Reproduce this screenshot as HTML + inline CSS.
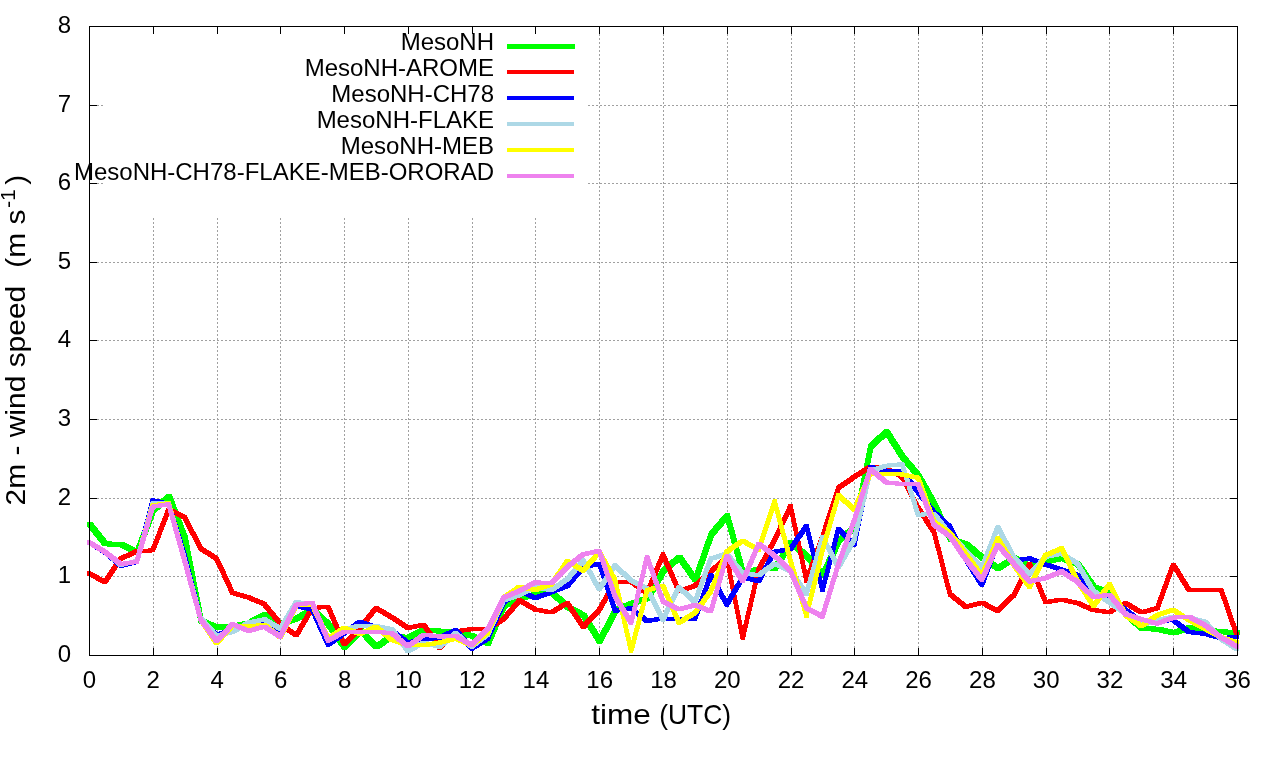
<!DOCTYPE html>
<html><head><meta charset="utf-8"><style>html,body{margin:0;padding:0;background:#fff;}svg{display:block;will-change:transform;}text{white-space:pre;}</style></head>
<body><svg width="1280" height="760" viewBox="0 0 1280 760" font-family='"Liberation Sans", sans-serif'><path d="M153.5 656V26M217.5 656V26M280.5 656V26M344.5 656V26M408.5 656V26M472.5 656V26M535.5 656V26M599.5 656V26M663.5 656V26M727.5 656V26M791.5 656V26M854.5 656V26M918.5 656V26M982.5 656V26M1046.5 656V26M1109.5 656V26M1173.5 656V26M89 576.5H1238M89 498.5H1238M89 419.5H1238M89 340.5H1238M89 262.5H1238M89 183.5H104M588 183.5H1238M89 105.5H104M588 105.5H1238" stroke="#a0a0a0" stroke-width="1" stroke-dasharray="2 2" fill="none" shape-rendering="crispEdges"/><rect x="103" y="27" width="485" height="191" fill="#fff"/><path d="M89.5 655V648M89.5 26V34M153.5 655V648M153.5 26V34M217.5 655V648M217.5 26V34M280.5 655V648M280.5 26V34M344.5 655V648M344.5 26V34M408.5 655V648M408.5 26V34M472.5 655V648M472.5 26V34M535.5 655V648M535.5 26V34M599.5 655V648M599.5 26V34M663.5 655V648M663.5 26V34M727.5 655V648M727.5 26V34M791.5 655V648M791.5 26V34M854.5 655V648M854.5 26V34M918.5 655V648M918.5 26V34M982.5 655V648M982.5 26V34M1046.5 655V648M1046.5 26V34M1109.5 655V648M1109.5 26V34M1173.5 655V648M1173.5 26V34M1237.5 655V648M1237.5 26V34M89 655.5H97M1237 655.5H1230M89 576.5H97M1237 576.5H1230M89 498.5H97M1237 498.5H1230M89 419.5H97M1237 419.5H1230M89 340.5H97M1237 340.5H1230M89 262.5H97M1237 262.5H1230M89 183.5H97M1237 183.5H1230M89 105.5H97M1237 105.5H1230M89 26.5H97M1237 26.5H1230" stroke="#000" stroke-width="1" fill="none" shape-rendering="crispEdges"/><path d="M87 521.52L92 521.52L107.94 541.41L107.94 546.41L102.94 546.41L87 526.52ZM102.94 541.41L107.94 541.41L123.89 541.78L123.89 546.78L118.89 546.78L102.94 546.41ZM118.89 541.78L123.89 541.78L139.83 549.86L139.83 554.86L134.83 554.86L118.89 546.78ZM134.83 549.86L150.78 507.77L155.78 507.77L155.78 512.77L139.83 554.86L134.83 554.86ZM150.78 507.77L166.72 493.99L171.72 493.99L171.72 498.99L155.78 512.77L150.78 512.77ZM166.72 493.99L171.72 493.99L187.67 535.86L187.67 540.86L182.67 540.86L166.72 498.99ZM182.67 535.86L187.67 535.86L203.61 618.26L203.61 623.26L198.61 623.26L182.67 540.86ZM198.61 618.26L203.61 618.26L219.56 624.86L219.56 629.86L214.56 629.86L198.61 623.26ZM214.56 624.86L230.5 623.7L235.5 623.7L235.5 628.7L219.56 629.86L214.56 629.86ZM230.5 623.7L246.44 620.7L251.44 620.7L251.44 625.7L235.5 628.7L230.5 628.7ZM246.44 620.7L262.39 612.07L267.39 612.07L267.39 617.07L251.44 625.7L246.44 625.7ZM262.39 612.07L267.39 612.07L283.33 621.36L283.33 626.36L278.33 626.36L262.39 617.07ZM278.33 621.36L294.28 616.05L299.28 616.05L299.28 621.05L283.33 626.36L278.33 626.36ZM294.28 616.05L310.22 606.75L315.22 606.75L315.22 611.75L299.28 621.05L294.28 621.05ZM310.22 606.75L315.22 606.75L331.17 622.02L331.17 627.02L326.17 627.02L310.22 611.75ZM326.17 622.02L331.17 622.02L347.11 644.6L347.11 649.6L342.11 649.6L326.17 627.02ZM342.11 644.6L358.06 627.82L363.06 627.82L363.06 632.82L347.11 649.6L342.11 649.6ZM358.06 627.82L363.06 627.82L379 644.35L379 649.35L374 649.35L358.06 632.82ZM374 644.35L389.94 633.32L394.94 633.32L394.94 638.32L379 649.35L374 649.35ZM389.94 633.32L394.94 633.32L410.89 635.18L410.89 640.18L405.89 640.18L389.94 638.32ZM405.89 635.18L421.83 627.34L426.83 627.34L426.83 632.34L410.89 640.18L405.89 640.18ZM421.83 627.34L426.83 627.34L442.78 628.67L442.78 633.67L437.78 633.67L421.83 632.34ZM437.78 628.67L442.78 628.67L458.72 629.33L458.72 634.33L453.72 634.33L437.78 633.67ZM453.72 629.33L458.72 629.33L474.67 633.32L474.67 638.32L469.67 638.32L453.72 634.33ZM469.67 633.32L474.67 633.32L490.61 640.62L490.61 645.62L485.61 645.62L469.67 638.32ZM485.61 640.62L501.56 603.4L506.56 603.4L506.56 608.4L490.61 645.62L485.61 645.62ZM501.56 603.4L517.5 595.85L522.5 595.85L522.5 600.85L506.56 608.4L501.56 608.4ZM517.5 595.85L533.44 591.79L538.44 591.79L538.44 596.79L522.5 600.85L517.5 600.85ZM533.44 591.79L549.39 589.93L554.39 589.93L554.39 594.93L538.44 596.79L533.44 596.79ZM549.39 589.93L554.39 589.93L570.33 604.47L570.33 609.47L565.33 609.47L549.39 594.93ZM565.33 604.47L570.33 604.47L586.28 613.03L586.28 618.03L581.28 618.03L565.33 609.47ZM581.28 613.03L586.28 613.03L602.22 638.69L602.22 643.69L597.22 643.69L581.28 618.03ZM597.22 638.69L613.17 607.9L618.17 607.9L618.17 612.9L602.22 643.69L597.22 643.69ZM613.17 607.9L629.11 601.05L634.11 601.05L634.11 606.05L618.17 612.9L613.17 612.9ZM629.11 601.05L645.06 595.93L650.06 595.93L650.06 600.93L634.11 606.05L629.11 606.05ZM645.06 595.93L661 568.56L666 568.56L666 573.56L650.06 600.93L645.06 600.93ZM661 568.56L676.94 554.66L681.94 554.66L681.94 559.66L666 573.56L661 573.56ZM676.94 554.66L681.94 554.66L697.89 577.36L697.89 582.36L692.89 582.36L676.94 559.66ZM692.89 577.36L708.83 531.97L713.83 531.97L713.83 536.97L697.89 582.36L692.89 582.36ZM708.83 531.97L724.78 513.24L729.78 513.24L729.78 518.24L713.83 536.97L708.83 536.97ZM724.78 513.24L729.78 513.24L745.72 571.08L745.72 576.08L740.72 576.08L724.78 518.24ZM740.72 571.08L756.67 566.5L761.67 566.5L761.67 571.5L745.72 576.08L740.72 576.08ZM756.67 566.5L772.61 565.55L777.61 565.55L777.61 570.55L761.67 571.5L756.67 571.5ZM772.61 565.55L788.56 540L793.56 540L793.56 545L777.61 570.55L772.61 570.55ZM788.56 540L793.56 540L809.5 553.69L809.5 558.69L804.5 558.69L788.56 545ZM804.5 553.69L809.5 553.69L825.44 572.5L825.44 577.5L820.44 577.5L804.5 558.69ZM820.44 572.5L836.39 538.29L841.39 538.29L841.39 543.29L825.44 577.5L820.44 577.5ZM836.39 538.29L852.33 524.53L857.33 524.53L857.33 529.53L841.39 543.29L836.39 543.29ZM852.33 524.53L868.28 444.08L873.28 444.08L873.28 449.08L857.33 529.53L852.33 529.53ZM868.28 444.08L884.22 429.29L889.22 429.29L889.22 434.29L873.28 449.08L868.28 449.08ZM884.22 429.29L889.22 429.29L905.17 454.35L905.17 459.35L900.17 459.35L884.22 434.29ZM900.17 454.35L905.17 454.35L921.11 473.29L921.11 478.29L916.11 478.29L900.17 459.35ZM916.11 473.29L921.11 473.29L937.06 501.73L937.06 506.73L932.06 506.73L916.11 478.29ZM932.06 501.73L937.06 501.73L953 536.45L953 541.45L948 541.45L932.06 506.73ZM948 536.45L953 536.45L968.94 541.71L968.94 546.71L963.94 546.71L948 541.45ZM963.94 541.71L968.94 541.71L984.89 555.39L984.89 560.39L979.89 560.39L963.94 546.71ZM979.89 555.39L984.89 555.39L1000.83 565.92L1000.83 570.92L995.83 570.92L979.89 560.39ZM995.83 565.92L1011.78 555.39L1016.78 555.39L1016.78 560.39L1000.83 570.92L995.83 570.92ZM1011.78 555.39L1016.78 555.39L1032.72 563.82L1032.72 568.82L1027.72 568.82L1011.78 560.39ZM1027.72 563.82L1043.67 559.15L1048.67 559.15L1048.67 564.15L1032.72 568.82L1027.72 568.82ZM1043.67 559.15L1059.61 555.73L1064.61 555.73L1064.61 560.73L1048.67 564.15L1043.67 564.15ZM1059.61 555.73L1064.61 555.73L1080.56 561.71L1080.56 566.71L1075.56 566.71L1059.61 560.73ZM1075.56 561.71L1080.56 561.71L1096.5 584.8L1096.5 589.8L1091.5 589.8L1075.56 566.71ZM1091.5 584.8L1096.5 584.8L1112.44 589.93L1112.44 594.93L1107.44 594.93L1091.5 589.8ZM1107.44 589.93L1112.44 589.93L1128.39 611.32L1128.39 616.32L1123.39 616.32L1107.44 594.93ZM1123.39 611.32L1128.39 611.32L1144.33 625.86L1144.33 630.86L1139.33 630.86L1123.39 616.32ZM1139.33 625.86L1144.33 625.86L1160.28 626.72L1160.28 631.72L1155.28 631.72L1139.33 630.86ZM1155.28 626.72L1160.28 626.72L1176.22 630.28L1176.22 635.28L1171.22 635.28L1155.28 631.72ZM1171.22 630.28L1187.17 625L1192.17 625L1192.17 630L1176.22 635.28L1171.22 635.28ZM1187.17 625L1192.17 625L1208.11 627.56L1208.11 632.56L1203.11 632.56L1187.17 630ZM1203.11 627.56L1208.11 627.56L1224.06 629.28L1224.06 634.28L1219.06 634.28L1203.11 632.56ZM1219.06 629.28L1224.06 629.28L1240 630.14L1240 635.14L1235 635.14L1219.06 634.28Z" fill="#00ff00" shape-rendering="crispEdges"/><path d="M87 571.47L91 571.47L106.94 580.01L106.94 584.01L102.94 584.01L87 575.47ZM102.94 580.01L118.89 556.55L122.89 556.55L122.89 560.55L106.94 584.01L102.94 584.01ZM118.89 556.55L134.83 549.31L138.83 549.31L138.83 553.31L122.89 560.55L118.89 560.55ZM134.83 549.31L150.78 548.31L154.78 548.31L154.78 552.31L138.83 553.31L134.83 553.31ZM150.78 548.31L166.72 507.32L170.72 507.32L170.72 511.32L154.78 552.31L150.78 552.31ZM166.72 507.32L170.72 507.32L186.67 515.12L186.67 519.12L182.67 519.12L166.72 511.32ZM182.67 515.12L186.67 515.12L202.61 546.43L202.61 550.43L198.61 550.43L182.67 519.12ZM198.61 546.43L202.61 546.43L218.56 556.56L218.56 560.56L214.56 560.56L198.61 550.43ZM214.56 556.56L218.56 556.56L234.5 590.82L234.5 594.82L230.5 594.82L214.56 560.56ZM230.5 590.82L234.5 590.82L250.44 595.47L250.44 599.47L246.44 599.47L230.5 594.82ZM246.44 595.47L250.44 595.47L266.39 602.11L266.39 606.11L262.39 606.11L246.44 599.47ZM262.39 602.11L266.39 602.11L282.33 622.03L282.33 626.03L278.33 626.03L262.39 606.11ZM278.33 622.03L282.33 622.03L298.28 633.33L298.28 637.33L294.28 637.33L278.33 626.03ZM294.28 633.33L310.22 606.09L314.22 606.09L314.22 610.09L298.28 637.33L294.28 637.33ZM310.22 606.09L326.17 604.76L330.17 604.76L330.17 608.76L314.22 610.09L310.22 610.09ZM326.17 604.76L330.17 604.76L346.11 642.32L346.11 646.32L342.11 646.32L326.17 608.76ZM342.11 642.32L358.06 626.02L362.06 626.02L362.06 630.02L346.11 646.32L342.11 646.32ZM358.06 626.02L374 606.09L378 606.09L378 610.09L362.06 630.02L358.06 630.02ZM374 606.09L378 606.09L393.94 615.39L393.94 619.39L389.94 619.39L374 610.09ZM389.94 615.39L393.94 615.39L409.89 625.88L409.89 629.88L405.89 629.88L389.94 619.39ZM405.89 625.88L421.83 622.69L425.83 622.69L425.83 626.69L409.89 629.88L405.89 629.88ZM421.83 622.69L425.83 622.69L441.78 645.93L441.78 649.93L437.78 649.93L421.83 626.69ZM437.78 645.93L453.72 629.33L457.72 629.33L457.72 633.33L441.78 649.93L437.78 649.93ZM453.72 629.33L469.67 627.21L473.67 627.21L473.67 631.21L457.72 633.33L453.72 633.33ZM469.67 627.21L489.61 627.21L489.61 631.21L469.67 631.21ZM485.61 627.21L501.56 617.08L505.56 617.08L505.56 621.08L489.61 631.21L485.61 631.21ZM501.56 617.08L517.5 598.27L521.5 598.27L521.5 602.27L505.56 621.08L501.56 621.08ZM517.5 598.27L521.5 598.27L537.44 607.59L537.44 611.59L533.44 611.59L517.5 602.27ZM533.44 607.59L537.44 607.59L553.39 610.46L553.39 614.46L549.39 614.46L533.44 611.59ZM549.39 610.46L565.33 601.05L569.33 601.05L569.33 605.05L553.39 614.46L549.39 614.46ZM565.33 601.05L569.33 601.05L585.28 624.94L585.28 628.94L581.28 628.94L565.33 605.05ZM581.28 624.94L597.22 607.9L601.22 607.9L601.22 611.9L585.28 628.94L581.28 628.94ZM597.22 607.9L613.17 579.67L617.17 579.67L617.17 583.67L601.22 611.9L597.22 611.9ZM613.17 579.67L633.11 579.67L633.11 583.67L613.17 583.67ZM629.11 579.67L633.11 579.67L649.06 591.37L649.06 595.37L645.06 595.37L629.11 583.67ZM645.06 591.37L661 552.45L665 552.45L665 556.45L649.06 595.37L645.06 595.37ZM661 552.45L665 552.45L680.94 589.18L680.94 593.18L676.94 593.18L661 556.45ZM676.94 589.18L692.89 583.92L696.89 583.92L696.89 587.92L680.94 593.18L676.94 593.18ZM692.89 583.92L708.83 569.47L712.83 569.47L712.83 573.47L696.89 587.92L692.89 587.92ZM708.83 569.47L724.78 555.65L728.78 555.65L728.78 559.65L712.83 573.47L708.83 573.47ZM724.78 555.65L728.78 555.65L744.72 635.98L744.72 639.98L740.72 639.98L724.78 559.65ZM740.72 635.98L756.67 567.5L760.67 567.5L760.67 571.5L744.72 639.98L740.72 639.98ZM756.67 567.5L772.61 537.89L776.61 537.89L776.61 541.89L760.67 571.5L756.67 571.5ZM772.61 537.89L788.56 504.21L792.56 504.21L792.56 508.21L776.61 541.89L772.61 541.89ZM788.56 504.21L792.56 504.21L808.5 578.64L808.5 582.64L804.5 582.64L788.56 508.21ZM804.5 578.64L820.44 534.87L824.44 534.87L824.44 538.87L808.5 582.64L804.5 582.64ZM820.44 534.87L836.39 485.92L840.39 485.92L840.39 489.92L824.44 538.87L820.44 538.87ZM836.39 485.92L852.33 474.88L856.33 474.88L856.33 478.88L840.39 489.92L836.39 489.92ZM852.33 474.88L868.28 464.61L872.28 464.61L872.28 468.61L856.33 478.88L852.33 478.88ZM868.28 464.61L872.28 464.61L888.22 466.19L888.22 470.19L884.22 470.19L868.28 468.61ZM884.22 466.19L888.22 466.19L904.17 474.88L904.17 478.88L900.17 478.88L884.22 470.19ZM900.17 474.88L904.17 474.88L920.11 505.66L920.11 509.66L916.11 509.66L900.17 478.88ZM916.11 505.66L920.11 505.66L936.06 530.13L936.06 534.13L932.06 534.13L916.11 509.66ZM932.06 530.13L936.06 530.13L952 592.24L952 596.24L948 596.24L932.06 534.13ZM948 592.24L952 592.24L967.94 604.87L967.94 608.87L963.94 608.87L948 596.24ZM963.94 604.87L979.89 600.66L983.89 600.66L983.89 604.66L967.94 608.87L963.94 608.87ZM979.89 600.66L983.89 600.66L999.83 608.74L999.83 612.74L995.83 612.74L979.89 604.66ZM995.83 608.74L1011.78 593.29L1015.78 593.29L1015.78 597.29L999.83 612.74L995.83 612.74ZM1011.78 593.29L1027.72 561.71L1031.72 561.71L1031.72 565.71L1015.78 597.29L1011.78 597.29ZM1027.72 561.71L1031.72 561.71L1047.67 600.2L1047.67 604.2L1043.67 604.2L1027.72 565.71ZM1043.67 600.2L1059.61 597.63L1063.61 597.63L1063.61 601.63L1047.67 604.2L1043.67 604.2ZM1059.61 597.63L1063.61 597.63L1079.56 601.05L1079.56 605.05L1075.56 605.05L1059.61 601.63ZM1075.56 601.05L1079.56 601.05L1095.5 608.04L1095.5 612.04L1091.5 612.04L1075.56 605.05ZM1091.5 608.04L1095.5 608.04L1111.44 610.25L1111.44 614.25L1107.44 614.25L1091.5 612.04ZM1107.44 610.25L1123.39 601.05L1127.39 601.05L1127.39 605.05L1111.44 614.25L1107.44 614.25ZM1123.39 601.05L1127.39 601.05L1143.33 610.46L1143.33 614.46L1139.33 614.46L1123.39 605.05ZM1139.33 610.46L1155.28 606.19L1159.28 606.19L1159.28 610.19L1143.33 614.46L1139.33 614.46ZM1155.28 606.19L1171.22 562.57L1175.22 562.57L1175.22 566.57L1159.28 610.19L1155.28 610.19ZM1171.22 562.57L1175.22 562.57L1191.17 588.37L1191.17 592.37L1187.17 592.37L1171.22 566.57ZM1187.17 588.37L1203.11 587.51L1207.11 587.51L1207.11 591.51L1191.17 592.37L1187.17 592.37ZM1203.11 587.51L1223.06 587.51L1223.06 591.51L1203.11 591.51ZM1219.06 587.51L1223.06 587.51L1239 633.56L1239 637.56L1235 637.56L1219.06 591.51Z" fill="#ff0000" shape-rendering="crispEdges"/><path d="M87 540.35L91 540.35L106.94 550.05L106.94 554.05L102.94 554.05L87 544.35ZM102.94 550.05L106.94 550.05L122.89 563.78L122.89 567.78L118.89 567.78L102.94 554.05ZM118.89 563.78L134.83 559.66L138.83 559.66L138.83 563.66L122.89 567.78L118.89 567.78ZM134.83 559.66L150.78 498.36L154.78 498.36L154.78 502.36L138.83 563.66L134.83 563.66ZM150.78 498.36L154.78 498.36L170.72 502.01L170.72 506.01L166.72 506.01L150.78 502.36ZM166.72 502.01L170.72 502.01L186.67 553.8L186.67 557.8L182.67 557.8L166.72 506.01ZM182.67 553.8L186.67 553.8L202.61 616.4L202.61 620.4L198.61 620.4L182.67 557.8ZM198.61 616.4L202.61 616.4L218.56 633.33L218.56 637.33L214.56 637.33L198.61 620.4ZM214.56 633.33L230.5 627.34L234.5 627.34L234.5 631.34L218.56 637.33L214.56 637.33ZM230.5 627.34L246.44 623.36L250.44 623.36L250.44 627.36L234.5 631.34L230.5 631.34ZM246.44 623.36L262.39 621.36L266.39 621.36L266.39 625.36L250.44 627.36L246.44 627.36ZM262.39 621.36L266.39 621.36L282.33 629.99L282.33 633.99L278.33 633.99L262.39 625.36ZM278.33 629.99L294.28 604.1L298.28 604.1L298.28 608.1L282.33 633.99L278.33 633.99ZM294.28 604.1L298.28 604.1L314.22 607.42L314.22 611.42L310.22 611.42L294.28 608.1ZM310.22 607.42L314.22 607.42L330.17 642.61L330.17 646.61L326.17 646.61L310.22 611.42ZM326.17 642.61L342.11 631.32L346.11 631.32L346.11 635.32L330.17 646.61L326.17 646.61ZM342.11 631.32L358.06 619.63L362.06 619.63L362.06 623.63L346.11 635.32L342.11 635.32ZM358.06 619.63L362.06 619.63L378 625.35L378 629.35L374 629.35L358.06 623.63ZM374 625.35L378 625.35L393.94 628.67L393.94 632.67L389.94 632.67L374 629.35ZM389.94 628.67L393.94 628.67L409.89 640.62L409.89 644.62L405.89 644.62L389.94 632.67ZM405.89 640.62L421.83 637.3L425.83 637.3L425.83 641.3L409.89 644.62L405.89 644.62ZM421.83 637.3L437.78 635.66L441.78 635.66L441.78 639.66L425.83 641.3L421.83 641.3ZM437.78 635.66L453.72 628.01L457.72 628.01L457.72 632.01L441.78 639.66L437.78 639.66ZM453.72 628.01L457.72 628.01L473.67 646.6L473.67 650.6L469.67 650.6L453.72 632.01ZM469.67 646.6L485.61 636.64L489.61 636.64L489.61 640.64L473.67 650.6L469.67 650.6ZM485.61 636.64L501.56 600.83L505.56 600.83L505.56 604.83L489.61 640.64L485.61 640.64ZM501.56 600.83L517.5 588.02L521.5 588.02L521.5 592.02L505.56 604.83L501.56 604.83ZM517.5 588.02L521.5 588.02L537.44 596.01L537.44 600.01L533.44 600.01L517.5 592.02ZM533.44 596.01L549.39 590.08L553.39 590.08L553.39 594.08L537.44 600.01L533.44 600.01ZM549.39 590.08L565.33 583.95L569.33 583.95L569.33 587.95L553.39 594.08L549.39 594.08ZM565.33 583.95L581.28 565.13L585.28 565.13L585.28 569.13L569.33 587.95L565.33 587.95ZM581.28 565.13L597.22 561.71L601.22 561.71L601.22 565.71L585.28 569.13L581.28 569.13ZM597.22 561.71L601.22 561.71L617.17 608.75L617.17 612.75L613.17 612.75L597.22 565.71ZM613.17 608.75L629.11 606.19L633.11 606.19L633.11 610.19L617.17 612.75L613.17 612.75ZM629.11 606.19L633.11 606.19L649.06 619.02L649.06 623.02L645.06 623.02L629.11 610.19ZM645.06 619.02L661 616.45L665 616.45L665 620.45L649.06 623.02L645.06 623.02ZM661 616.45L665 616.45L680.94 616.83L680.94 620.83L676.94 620.83L661 620.45ZM676.94 616.83L696.89 616.83L696.89 620.83L676.94 620.83ZM692.89 616.83L708.83 572.94L712.83 572.94L712.83 576.94L696.89 620.83L692.89 620.83ZM708.83 572.94L712.83 572.94L728.78 602.56L728.78 606.56L724.78 606.56L708.83 576.94ZM724.78 602.56L740.72 575.39L744.72 575.39L744.72 579.39L728.78 606.56L724.78 606.56ZM740.72 575.39L744.72 575.39L760.67 579.08L760.67 583.08L756.67 583.08L740.72 579.39ZM756.67 579.08L772.61 549.76L776.61 549.76L776.61 553.76L760.67 583.08L756.67 583.08ZM772.61 549.76L788.56 547.13L792.56 547.13L792.56 551.13L776.61 553.76L772.61 553.76ZM788.56 547.13L804.5 523.75L808.5 523.75L808.5 527.75L792.56 551.13L788.56 551.13ZM804.5 523.75L808.5 523.75L824.44 588.19L824.44 592.19L820.44 592.19L804.5 527.75ZM820.44 588.19L836.39 527.17L840.39 527.17L840.39 531.17L824.44 592.19L820.44 592.19ZM836.39 527.17L840.39 527.17L856.33 542.56L856.33 546.56L852.33 546.56L836.39 531.17ZM852.33 542.56L868.28 464.82L872.28 464.82L872.28 468.82L856.33 546.56L852.33 546.56ZM868.28 464.82L872.28 464.82L888.22 468.77L888.22 472.77L884.22 472.77L868.28 468.82ZM884.22 468.77L900.17 468.55L904.17 468.55L904.17 472.55L888.22 472.77L884.22 472.77ZM900.17 468.55L904.17 468.55L920.11 490.29L920.11 494.29L916.11 494.29L900.17 472.55ZM916.11 490.29L920.11 490.29L936.06 510.24L936.06 514.24L932.06 514.24L916.11 494.29ZM932.06 510.24L936.06 510.24L952 524.86L952 528.86L948 528.86L932.06 514.24ZM948 524.86L952 524.86L967.94 557.5L967.94 561.5L963.94 561.5L948 528.86ZM963.94 557.5L967.94 557.5L983.89 582.91L983.89 586.91L979.89 586.91L963.94 561.5ZM979.89 582.91L995.83 540.66L999.83 540.66L999.83 544.66L983.89 586.91L979.89 586.91ZM995.83 540.66L999.83 540.66L1015.78 558.56L1015.78 562.56L1011.78 562.56L995.83 544.66ZM1011.78 558.56L1027.72 556.45L1031.72 556.45L1031.72 560.45L1015.78 562.56L1011.78 562.56ZM1027.72 556.45L1031.72 556.45L1047.67 562.57L1047.67 566.57L1043.67 566.57L1027.72 560.45ZM1043.67 562.57L1047.67 562.57L1063.61 567.7L1063.61 571.7L1059.61 571.7L1043.67 566.57ZM1059.61 567.7L1063.61 567.7L1079.56 572.98L1079.56 576.98L1075.56 576.98L1059.61 571.7ZM1075.56 572.98L1079.56 572.98L1095.5 591.65L1095.5 595.65L1091.5 595.65L1075.56 576.98ZM1091.5 591.65L1095.5 591.65L1111.44 595.93L1111.44 599.93L1107.44 599.93L1091.5 595.65ZM1107.44 595.93L1111.44 595.93L1127.39 607.9L1127.39 611.9L1123.39 611.9L1107.44 599.93ZM1123.39 607.9L1127.39 607.9L1143.33 619.87L1143.33 623.87L1139.33 623.87L1123.39 611.9ZM1139.33 619.87L1155.28 619.02L1159.28 619.02L1159.28 623.02L1143.33 623.87L1139.33 623.87ZM1155.28 619.02L1171.22 618.16L1175.22 618.16L1175.22 622.16L1159.28 623.02L1155.28 623.02ZM1171.22 618.16L1175.22 618.16L1191.17 630.14L1191.17 634.14L1187.17 634.14L1171.22 622.16ZM1187.17 630.14L1191.17 630.14L1207.11 631.84L1207.11 635.84L1203.11 635.84L1187.17 634.14ZM1203.11 631.84L1207.11 631.84L1223.06 636.12L1223.06 640.12L1219.06 640.12L1203.11 635.84ZM1219.06 636.12L1235 634.92L1239 634.92L1239 638.92L1223.06 640.12L1219.06 640.12Z" fill="#0000ff" shape-rendering="crispEdges"/><path d="M87 540.35L91 540.35L106.94 549.76L106.94 553.76L102.94 553.76L87 544.35ZM102.94 549.76L106.94 549.76L122.89 562.84L122.89 566.84L118.89 566.84L102.94 553.76ZM118.89 562.84L134.83 559L138.83 559L138.83 563L122.89 566.84L118.89 566.84ZM134.83 559L150.78 501.23L154.78 501.23L154.78 505.23L138.83 563L134.83 563ZM150.78 501.23L154.78 501.23L170.72 501.25L170.72 505.25L166.72 505.25L150.78 505.23ZM166.72 501.25L170.72 501.25L186.67 557.48L186.67 561.48L182.67 561.48L166.72 505.25ZM182.67 557.48L186.67 557.48L202.61 616.05L202.61 620.05L198.61 620.05L182.67 561.48ZM198.61 616.05L202.61 616.05L218.56 633.98L218.56 637.98L214.56 637.98L198.61 620.05ZM214.56 633.98L230.5 629.99L234.5 629.99L234.5 633.99L218.56 637.98L214.56 637.98ZM230.5 629.99L246.44 620.7L250.44 620.7L250.44 624.7L234.5 633.99L230.5 633.99ZM246.44 620.7L262.39 617.38L266.39 617.38L266.39 621.38L250.44 624.7L246.44 624.7ZM262.39 617.38L266.39 617.38L282.33 626.68L282.33 630.68L278.33 630.68L262.39 621.38ZM278.33 626.68L294.28 600.12L298.28 600.12L298.28 604.12L282.33 630.68L278.33 630.68ZM294.28 600.12L298.28 600.12L314.22 602.11L314.22 606.11L310.22 606.11L294.28 604.12ZM310.22 602.11L314.22 602.11L330.17 637.97L330.17 641.97L326.17 641.97L310.22 606.11ZM326.17 637.97L342.11 627.34L346.11 627.34L346.11 631.34L330.17 641.97L326.17 641.97ZM342.11 627.34L358.06 623.7L362.06 623.7L362.06 627.7L346.11 631.34L342.11 631.34ZM358.06 623.7L362.06 623.7L378 624.02L378 628.02L374 628.02L358.06 627.7ZM374 624.02L378 624.02L393.94 627.34L393.94 631.34L389.94 631.34L374 628.02ZM389.94 627.34L393.94 627.34L409.89 649.06L409.89 653.06L405.89 653.06L389.94 631.34ZM405.89 649.06L421.83 640.62L425.83 640.62L425.83 644.62L409.89 653.06L405.89 653.06ZM421.83 640.62L425.83 640.62L441.78 644.78L441.78 648.78L437.78 648.78L421.83 644.62ZM437.78 644.78L453.72 631.32L457.72 631.32L457.72 635.32L441.78 648.78L437.78 648.78ZM453.72 631.32L457.72 631.32L473.67 644.6L473.67 648.6L469.67 648.6L453.72 635.32ZM469.67 644.6L485.61 632.65L489.61 632.65L489.61 636.65L473.67 648.6L469.67 648.6ZM485.61 632.65L501.56 598.27L505.56 598.27L505.56 602.27L489.61 636.65L485.61 636.65ZM501.56 598.27L517.5 592.93L521.5 592.93L521.5 596.93L505.56 602.27L501.56 602.27ZM517.5 592.93L533.44 584.8L537.44 584.8L537.44 588.8L521.5 596.93L517.5 596.93ZM533.44 584.8L537.44 584.8L553.39 588.23L553.39 592.23L549.39 592.23L533.44 588.8ZM549.39 588.23L565.33 577.1L569.33 577.1L569.33 581.1L553.39 592.23L549.39 592.23ZM565.33 577.1L581.28 558.29L585.28 558.29L585.28 562.29L569.33 581.1L565.33 581.1ZM581.28 558.29L585.28 558.29L601.22 587.37L601.22 591.37L597.22 591.37L581.28 562.29ZM597.22 587.37L613.17 563.42L617.17 563.42L617.17 567.42L601.22 591.37L597.22 591.37ZM613.17 563.42L617.17 563.42L633.11 578.82L633.11 582.82L629.11 582.82L613.17 567.42ZM629.11 578.82L633.11 578.82L649.06 586.51L649.06 590.51L645.06 590.51L629.11 582.82ZM645.06 586.51L649.06 586.51L665 617.6L665 621.6L661 621.6L645.06 590.51ZM661 617.6L676.94 585.28L680.94 585.28L680.94 589.28L665 621.6L661 621.6ZM676.94 585.28L680.94 585.28L696.89 600.09L696.89 604.09L692.89 604.09L676.94 589.28ZM692.89 600.09L708.83 556.65L712.83 556.65L712.83 560.65L696.89 604.09L692.89 604.09ZM708.83 556.65L724.78 551.71L728.78 551.71L728.78 555.71L712.83 560.65L708.83 560.65ZM724.78 551.71L728.78 551.71L744.72 571.44L744.72 575.44L740.72 575.44L724.78 555.71ZM740.72 571.44L744.72 571.44L760.67 573.14L760.67 577.14L756.67 577.14L740.72 575.44ZM756.67 573.14L772.61 561.57L776.61 561.57L776.61 565.57L760.67 577.14L756.67 577.14ZM772.61 561.57L776.61 561.57L792.56 569.08L792.56 573.08L788.56 573.08L772.61 565.57ZM788.56 569.08L792.56 569.08L808.5 591.61L808.5 595.61L804.5 595.61L788.56 573.08ZM804.5 591.61L820.44 534.87L824.44 534.87L824.44 538.87L808.5 595.61L804.5 595.61ZM820.44 534.87L824.44 534.87L840.39 565.24L840.39 569.24L836.39 569.24L820.44 538.87ZM836.39 565.24L852.33 537.54L856.33 537.54L856.33 541.54L840.39 569.24L836.39 569.24ZM852.33 537.54L868.28 469.19L872.28 469.19L872.28 473.19L856.33 541.54L852.33 541.54ZM868.28 469.19L884.22 463.82L888.22 463.82L888.22 467.82L872.28 473.19L868.28 473.19ZM884.22 463.82L900.17 462.24L904.17 462.24L904.17 466.24L888.22 467.82L884.22 467.82ZM900.17 462.24L904.17 462.24L920.11 512.77L920.11 516.77L916.11 516.77L900.17 466.24ZM916.11 512.77L932.06 511.98L936.06 511.98L936.06 515.98L920.11 516.77L916.11 516.77ZM932.06 511.98L936.06 511.98L952 532.24L952 536.24L948 536.24L932.06 515.98ZM948 532.24L952 532.24L967.94 549.08L967.94 553.08L963.94 553.08L948 536.24ZM963.94 549.08L967.94 549.08L983.89 565.77L983.89 569.77L979.89 569.77L963.94 553.08ZM979.89 565.77L995.83 524.86L999.83 524.86L999.83 528.86L983.89 569.77L979.89 569.77ZM995.83 524.86L999.83 524.86L1015.78 555.39L1015.78 559.39L1011.78 559.39L995.83 528.86ZM1011.78 555.39L1015.78 555.39L1031.72 572.24L1031.72 576.24L1027.72 576.24L1011.78 559.39ZM1027.72 572.24L1043.67 554.87L1047.67 554.87L1047.67 558.87L1031.72 576.24L1027.72 576.24ZM1043.67 554.87L1059.61 551.45L1063.61 551.45L1063.61 555.45L1047.67 558.87L1043.67 558.87ZM1059.61 551.45L1063.61 551.45L1079.56 561.71L1079.56 565.71L1075.56 565.71L1059.61 555.45ZM1075.56 561.71L1079.56 561.71L1095.5 589.08L1095.5 593.08L1091.5 593.08L1075.56 565.71ZM1091.5 589.08L1095.5 589.08L1111.44 600.34L1111.44 604.34L1107.44 604.34L1091.5 593.08ZM1107.44 600.34L1111.44 600.34L1127.39 611.32L1127.39 615.32L1123.39 615.32L1107.44 604.34ZM1123.39 611.32L1127.39 611.32L1143.33 623.3L1143.33 627.3L1139.33 627.3L1123.39 615.32ZM1139.33 623.3L1155.28 618.16L1159.28 618.16L1159.28 622.16L1143.33 627.3L1139.33 627.3ZM1155.28 618.16L1171.22 614.74L1175.22 614.74L1175.22 618.74L1159.28 622.16L1155.28 622.16ZM1171.22 614.74L1175.22 614.74L1191.17 615.6L1191.17 619.6L1187.17 619.6L1171.22 618.74ZM1187.17 615.6L1191.17 615.6L1207.11 619.87L1207.11 623.87L1203.11 623.87L1187.17 619.6ZM1203.11 619.87L1207.11 619.87L1223.06 636.98L1223.06 640.98L1219.06 640.98L1203.11 623.87ZM1219.06 636.98L1223.06 636.98L1239 647.24L1239 651.24L1235 651.24L1219.06 640.98Z" fill="#add8e6" shape-rendering="crispEdges"/><path d="M87 540.35L91 540.35L106.94 549.76L106.94 553.76L102.94 553.76L87 544.35ZM102.94 549.76L106.94 549.76L122.89 562.12L122.89 566.12L118.89 566.12L102.94 553.76ZM118.89 562.12L134.83 559.72L138.83 559.72L138.83 563.72L122.89 566.12L118.89 566.12ZM134.83 559.72L150.78 503.42L154.78 503.42L154.78 507.42L138.83 563.72L134.83 563.72ZM150.78 503.42L166.72 501.25L170.72 501.25L170.72 505.25L154.78 507.42L150.78 507.42ZM166.72 501.25L170.72 501.25L186.67 559.33L186.67 563.33L182.67 563.33L166.72 505.25ZM182.67 559.33L186.67 559.33L202.61 617.38L202.61 621.38L198.61 621.38L182.67 563.33ZM198.61 617.38L202.61 617.38L218.56 641.1L218.56 645.1L214.56 645.1L198.61 621.38ZM214.56 641.1L230.5 623.34L234.5 623.34L234.5 627.34L218.56 645.1L214.56 645.1ZM230.5 623.34L234.5 623.34L250.44 624.69L250.44 628.69L246.44 628.69L230.5 627.34ZM246.44 624.69L262.39 622.69L266.39 622.69L266.39 626.69L250.44 628.69L246.44 628.69ZM262.39 622.69L266.39 622.69L282.33 635.31L282.33 639.31L278.33 639.31L262.39 626.69ZM278.33 635.31L294.28 603.43L298.28 603.43L298.28 607.43L282.33 639.31L278.33 639.31ZM294.28 603.43L310.22 602.77L314.22 602.77L314.22 606.77L298.28 607.43L294.28 607.43ZM310.22 602.77L314.22 602.77L330.17 636.64L330.17 640.64L326.17 640.64L310.22 606.77ZM326.17 636.64L342.11 625.82L346.11 625.82L346.11 629.82L330.17 640.64L326.17 640.64ZM342.11 625.82L346.11 625.82L362.06 631.99L362.06 635.99L358.06 635.99L342.11 629.82ZM358.06 631.99L374 624.69L378 624.69L378 628.69L362.06 635.99L358.06 635.99ZM374 624.69L378 624.69L393.94 637.97L393.94 641.97L389.94 641.97L374 628.69ZM389.94 637.97L393.94 637.97L409.89 643.27L409.89 647.27L405.89 647.27L389.94 641.97ZM405.89 643.27L425.83 643.27L425.83 647.27L405.89 647.27ZM421.83 643.27L437.78 640.62L441.78 640.62L441.78 644.62L425.83 647.27L421.83 647.27ZM437.78 640.62L453.72 636.64L457.72 636.64L457.72 640.64L441.78 644.62L437.78 644.62ZM453.72 636.64L457.72 636.64L473.67 643.27L473.67 647.27L469.67 647.27L453.72 640.64ZM469.67 643.27L485.61 630.67L489.61 630.67L489.61 634.67L473.67 647.27L469.67 647.27ZM485.61 630.67L501.56 595.78L505.56 595.78L505.56 599.78L489.61 634.67L485.61 634.67ZM501.56 595.78L517.5 584.75L521.5 584.75L521.5 588.75L505.56 599.78L501.56 599.78ZM517.5 584.75L521.5 584.75L537.44 587.91L537.44 591.91L533.44 591.91L517.5 588.75ZM533.44 587.91L549.39 582.24L553.39 582.24L553.39 586.24L537.44 591.91L533.44 591.91ZM549.39 582.24L565.33 559.29L569.33 559.29L569.33 563.29L553.39 586.24L549.39 586.24ZM565.33 559.29L569.33 559.29L585.28 568.56L585.28 572.56L581.28 572.56L565.33 563.29ZM581.28 568.56L597.22 550.07L601.22 550.07L601.22 554.07L585.28 572.56L581.28 572.56ZM597.22 550.07L601.22 550.07L617.17 578.18L617.17 582.18L613.17 582.18L597.22 554.07ZM613.17 578.18L617.17 578.18L633.11 648.95L633.11 652.95L629.11 652.95L613.17 582.18ZM629.11 648.95L645.06 588.23L649.06 588.23L649.06 592.23L633.11 652.95L629.11 652.95ZM645.06 588.23L661 583.95L665 583.95L665 587.95L649.06 592.23L645.06 592.23ZM661 583.95L665 583.95L680.94 620.78L680.94 624.78L676.94 624.78L661 587.95ZM676.94 620.78L692.89 610.91L696.89 610.91L696.89 614.91L680.94 624.78L676.94 624.78ZM692.89 610.91L708.83 589.2L712.83 589.2L712.83 593.2L696.89 614.91L692.89 614.91ZM708.83 589.2L724.78 549.73L728.78 549.73L728.78 553.73L712.83 593.2L708.83 593.2ZM724.78 549.73L740.72 538.89L744.72 538.89L744.72 542.89L728.78 553.73L724.78 553.73ZM740.72 538.89L744.72 538.89L760.67 547.76L760.67 551.76L756.67 551.76L740.72 542.89ZM756.67 547.76L772.61 499.44L776.61 499.44L776.61 503.44L760.67 551.76L756.67 551.76ZM772.61 499.44L776.61 499.44L792.56 558.82L792.56 562.82L788.56 562.82L772.61 503.44ZM788.56 558.82L792.56 558.82L808.5 613.55L808.5 617.55L804.5 617.55L788.56 562.82ZM804.5 613.55L820.44 548.55L824.44 548.55L824.44 552.55L808.5 617.55L804.5 617.55ZM820.44 548.55L836.39 493.03L840.39 493.03L840.39 497.03L824.44 552.55L820.44 552.55ZM836.39 493.03L840.39 493.03L856.33 507.66L856.33 511.66L852.33 511.66L836.39 497.03ZM852.33 507.66L868.28 471.71L872.28 471.71L872.28 475.71L856.33 511.66L852.33 511.66ZM868.28 471.71L888.22 471.71L888.22 475.71L868.28 475.71ZM884.22 471.71L888.22 471.71L904.17 472.5L904.17 476.5L900.17 476.5L884.22 475.71ZM900.17 472.5L904.17 472.5L920.11 475.66L920.11 479.66L916.11 479.66L900.17 476.5ZM916.11 475.66L920.11 475.66L936.06 519.87L936.06 523.87L932.06 523.87L916.11 479.66ZM932.06 519.87L936.06 519.87L952 531.19L952 535.19L948 535.19L932.06 523.87ZM948 531.19L952 531.19L967.94 552.23L967.94 556.23L963.94 556.23L948 535.19ZM963.94 552.23L967.94 552.23L983.89 573.63L983.89 577.63L979.89 577.63L963.94 556.23ZM979.89 573.63L995.83 536.45L999.83 536.45L999.83 540.45L983.89 577.63L979.89 577.63ZM995.83 536.45L999.83 536.45L1015.78 562.76L1015.78 566.76L1011.78 566.76L995.83 540.45ZM1011.78 562.76L1015.78 562.76L1031.72 585.01L1031.72 589.01L1027.72 589.01L1011.78 566.76ZM1027.72 585.01L1043.67 553.16L1047.67 553.16L1047.67 557.16L1031.72 589.01L1027.72 589.01ZM1043.67 553.16L1059.61 546.46L1063.61 546.46L1063.61 550.46L1047.67 557.16L1043.67 557.16ZM1059.61 546.46L1063.61 546.46L1079.56 578.82L1079.56 582.82L1075.56 582.82L1059.61 550.46ZM1075.56 578.82L1079.56 578.82L1095.5 604.06L1095.5 608.06L1091.5 608.06L1075.56 582.82ZM1091.5 604.06L1107.44 582.24L1111.44 582.24L1111.44 586.24L1095.5 608.06L1091.5 608.06ZM1107.44 582.24L1111.44 582.24L1127.39 613.03L1127.39 617.03L1123.39 617.03L1107.44 586.24ZM1123.39 613.03L1127.39 613.03L1143.33 624.14L1143.33 628.14L1139.33 628.14L1123.39 617.03ZM1139.33 624.14L1155.28 613.03L1159.28 613.03L1159.28 617.03L1143.33 628.14L1139.33 628.14ZM1155.28 613.03L1171.22 607.9L1175.22 607.9L1175.22 611.9L1159.28 617.03L1155.28 617.03ZM1171.22 607.9L1175.22 607.9L1191.17 618.16L1191.17 622.16L1187.17 622.16L1171.22 611.9ZM1187.17 618.16L1191.17 618.16L1207.11 626.72L1207.11 630.72L1203.11 630.72L1187.17 622.16ZM1203.11 626.72L1207.11 626.72L1223.06 635.26L1223.06 639.26L1219.06 639.26L1203.11 630.72ZM1219.06 635.26L1223.06 635.26L1239 640.4L1239 644.4L1235 644.4L1219.06 639.26Z" fill="#ffff00" shape-rendering="crispEdges"/><path d="M87 540.35L91 540.35L106.94 549.76L106.94 553.76L102.94 553.76L87 544.35ZM102.94 549.76L106.94 549.76L122.89 562.12L122.89 566.12L118.89 566.12L102.94 553.76ZM118.89 562.12L134.83 559.72L138.83 559.72L138.83 563.72L122.89 566.12L118.89 566.12ZM134.83 559.72L150.78 504.63L154.78 504.63L154.78 508.63L138.83 563.72L134.83 563.72ZM150.78 504.63L166.72 502.25L170.72 502.25L170.72 506.25L154.78 508.63L150.78 508.63ZM166.72 502.25L170.72 502.25L186.67 559.33L186.67 563.33L182.67 563.33L166.72 506.25ZM182.67 559.33L186.67 559.33L202.61 617.38L202.61 621.38L198.61 621.38L182.67 563.33ZM198.61 617.38L202.61 617.38L218.56 639.3L218.56 643.3L214.56 643.3L198.61 621.38ZM214.56 639.3L230.5 622.16L234.5 622.16L234.5 626.16L218.56 643.3L214.56 643.3ZM230.5 622.16L234.5 622.16L250.44 628.84L250.44 632.84L246.44 632.84L230.5 626.16ZM246.44 628.84L262.39 624.69L266.39 624.69L266.39 628.69L250.44 632.84L246.44 632.84ZM262.39 624.69L266.39 624.69L282.33 634.81L282.33 638.81L278.33 638.81L262.39 628.69ZM278.33 634.81L294.28 602.77L298.28 602.77L298.28 606.77L282.33 638.81L278.33 638.81ZM294.28 602.77L310.22 600.78L314.22 600.78L314.22 604.78L298.28 606.77L294.28 606.77ZM310.22 600.78L314.22 600.78L330.17 638.63L330.17 642.63L326.17 642.63L310.22 604.78ZM326.17 638.63L342.11 629.74L346.11 629.74L346.11 633.74L330.17 642.63L326.17 642.63ZM342.11 629.74L362.06 629.74L362.06 633.74L342.11 633.74ZM358.06 629.74L378 629.74L378 633.74L358.06 633.74ZM374 629.74L378 629.74L393.94 631.32L393.94 635.32L389.94 635.32L374 633.74ZM389.94 631.32L393.94 631.32L409.89 644.41L409.89 648.41L405.89 648.41L389.94 635.32ZM405.89 644.41L421.83 632.65L425.83 632.65L425.83 636.65L409.89 648.41L405.89 648.41ZM421.83 632.65L425.83 632.65L441.78 634.64L441.78 638.64L437.78 638.64L421.83 636.65ZM437.78 634.64L453.72 633.98L457.72 633.98L457.72 637.98L441.78 638.64L437.78 638.64ZM453.72 633.98L457.72 633.98L473.67 643.09L473.67 647.09L469.67 647.09L453.72 637.98ZM469.67 643.09L485.61 627.34L489.61 627.34L489.61 631.34L473.67 647.09L469.67 647.09ZM485.61 627.34L501.56 595.71L505.56 595.71L505.56 599.71L489.61 631.34L485.61 631.34ZM501.56 595.71L517.5 588.78L521.5 588.78L521.5 592.78L505.56 599.71L501.56 599.71ZM517.5 588.78L533.44 580.32L537.44 580.32L537.44 584.32L521.5 592.78L517.5 592.78ZM533.44 580.32L537.44 580.32L553.39 581.18L553.39 585.18L549.39 585.18L533.44 584.32ZM549.39 581.18L565.33 564.92L569.33 564.92L569.33 568.92L553.39 585.18L549.39 585.18ZM565.33 564.92L581.28 552.3L585.28 552.3L585.28 556.3L569.33 568.92L565.33 568.92ZM581.28 552.3L597.22 548.88L601.22 548.88L601.22 552.88L585.28 556.3L581.28 556.3ZM597.22 548.88L601.22 548.88L617.17 594.66L617.17 598.66L613.17 598.66L597.22 552.88ZM613.17 594.66L617.17 594.66L633.11 620.87L633.11 624.87L629.11 624.87L613.17 598.66ZM629.11 620.87L645.06 554.87L649.06 554.87L649.06 558.87L633.11 624.87L629.11 624.87ZM645.06 554.87L649.06 554.87L665 599.64L665 603.64L661 603.64L645.06 558.87ZM661 599.64L665 599.64L680.94 607.48L680.94 611.48L676.94 611.48L661 603.64ZM676.94 607.48L692.89 603.04L696.89 603.04L696.89 607.04L680.94 611.48L676.94 611.48ZM692.89 603.04L696.89 603.04L712.83 609.45L712.83 613.45L708.83 613.45L692.89 607.04ZM708.83 609.45L724.78 553.7L728.78 553.7L728.78 557.7L712.83 613.45L708.83 613.45ZM724.78 553.7L728.78 553.7L744.72 579.34L744.72 583.34L740.72 583.34L724.78 557.7ZM740.72 579.34L756.67 541.86L760.67 541.86L760.67 545.86L744.72 583.34L740.72 583.34ZM756.67 541.86L760.67 541.86L776.61 553.68L776.61 557.68L772.61 557.68L756.67 545.86ZM772.61 553.68L776.61 553.68L792.56 569.08L792.56 573.08L788.56 573.08L772.61 557.68ZM788.56 569.08L792.56 569.08L808.5 606.01L808.5 610.01L804.5 610.01L788.56 573.08ZM804.5 606.01L808.5 606.01L824.44 614.55L824.44 618.55L820.44 618.55L804.5 610.01ZM820.44 614.55L836.39 562.24L840.39 562.24L840.39 566.24L824.44 618.55L820.44 618.55ZM836.39 562.24L852.33 518.13L856.33 518.13L856.33 522.13L840.39 566.24L836.39 566.24ZM852.33 518.13L868.28 466.97L872.28 466.97L872.28 470.97L856.33 522.13L852.33 522.13ZM868.28 466.97L872.28 466.97L888.22 480.39L888.22 484.39L884.22 484.39L868.28 470.97ZM884.22 480.39L888.22 480.39L904.17 481.97L904.17 485.97L900.17 485.97L884.22 484.39ZM900.17 481.97L920.11 481.97L920.11 485.97L900.17 485.97ZM916.11 481.97L920.11 481.97L936.06 523.03L936.06 527.03L932.06 527.03L916.11 485.97ZM932.06 523.03L936.06 523.03L952 534.34L952 538.34L948 538.34L932.06 527.03ZM948 534.34L952 534.34L967.94 557.5L967.94 561.5L963.94 561.5L948 538.34ZM963.94 557.5L967.94 557.5L983.89 577.84L983.89 581.84L979.89 581.84L963.94 561.5ZM979.89 577.84L995.83 542.76L999.83 542.76L999.83 546.76L983.89 581.84L979.89 581.84ZM995.83 542.76L999.83 542.76L1015.78 561.71L1015.78 565.71L1011.78 565.71L995.83 546.76ZM1011.78 561.71L1015.78 561.71L1031.72 579.56L1031.72 583.56L1027.72 583.56L1011.78 565.71ZM1027.72 579.56L1043.67 576.04L1047.67 576.04L1047.67 580.04L1031.72 583.56L1027.72 583.56ZM1043.67 576.04L1059.61 569.41L1063.61 569.41L1063.61 573.41L1047.67 580.04L1043.67 580.04ZM1059.61 569.41L1063.61 569.41L1079.56 579.82L1079.56 583.82L1075.56 583.82L1059.61 573.41ZM1075.56 579.82L1079.56 579.82L1095.5 595.36L1095.5 599.36L1091.5 599.36L1075.56 583.82ZM1091.5 595.36L1107.44 592.5L1111.44 592.5L1111.44 596.5L1095.5 599.36L1091.5 599.36ZM1107.44 592.5L1111.44 592.5L1127.39 612.17L1127.39 616.17L1123.39 616.17L1107.44 596.5ZM1123.39 612.17L1127.39 612.17L1143.33 617.3L1143.33 621.3L1139.33 621.3L1123.39 616.17ZM1139.33 617.3L1143.33 617.3L1159.28 621.58L1159.28 625.58L1155.28 625.58L1139.33 621.3ZM1155.28 621.58L1171.22 615.6L1175.22 615.6L1175.22 619.6L1159.28 625.58L1155.28 625.58ZM1171.22 615.6L1187.17 614.74L1191.17 614.74L1191.17 618.74L1175.22 619.6L1171.22 619.6ZM1187.17 614.74L1191.17 614.74L1207.11 623.3L1207.11 627.3L1203.11 627.3L1187.17 618.74ZM1203.11 623.3L1207.11 623.3L1223.06 635.26L1223.06 639.26L1219.06 639.26L1203.11 627.3ZM1219.06 635.26L1223.06 635.26L1239 644.67L1239 648.67L1235 648.67L1219.06 639.26Z" fill="#ee82ee" shape-rendering="crispEdges"/><text x="494" y="50" text-anchor="end" font-size="24">MesoNH</text><rect x="507" y="44" width="68" height="5" fill="#00ff00"/><text x="494" y="76" text-anchor="end" font-size="24">MesoNH-AROME</text><rect x="507" y="70" width="67" height="4" fill="#ff0000"/><text x="494" y="102" text-anchor="end" font-size="24">MesoNH-CH78</text><rect x="507" y="96" width="67" height="4" fill="#0000ff"/><text x="494" y="128" text-anchor="end" font-size="24">MesoNH-FLAKE</text><rect x="507" y="122" width="67" height="4" fill="#add8e6"/><text x="494" y="154" text-anchor="end" font-size="24">MesoNH-MEB</text><rect x="507" y="148" width="67" height="4" fill="#ffff00"/><text x="494" y="180" text-anchor="end" font-size="24">MesoNH-CH78-FLAKE-MEB-ORORAD</text><rect x="507" y="174" width="67" height="4" fill="#ee82ee"/><rect x="89.5" y="26.5" width="1148" height="629" fill="none" stroke="#000" stroke-width="1" shape-rendering="crispEdges"/><text x="71" y="662.0" text-anchor="end" font-size="24">0</text><text x="71" y="583.0" text-anchor="end" font-size="24">1</text><text x="71" y="505.0" text-anchor="end" font-size="24">2</text><text x="71" y="426.0" text-anchor="end" font-size="24">3</text><text x="71" y="347.0" text-anchor="end" font-size="24">4</text><text x="71" y="269.0" text-anchor="end" font-size="24">5</text><text x="71" y="190.0" text-anchor="end" font-size="24">6</text><text x="71" y="112.0" text-anchor="end" font-size="24">7</text><text x="71" y="33.0" text-anchor="end" font-size="24">8</text><text x="89.5" y="687.5" text-anchor="middle" font-size="24">0</text><text x="153.3" y="687.5" text-anchor="middle" font-size="24">2</text><text x="217.1" y="687.5" text-anchor="middle" font-size="24">4</text><text x="280.8" y="687.5" text-anchor="middle" font-size="24">6</text><text x="344.6" y="687.5" text-anchor="middle" font-size="24">8</text><text x="408.4" y="687.5" text-anchor="middle" font-size="24">10</text><text x="472.2" y="687.5" text-anchor="middle" font-size="24">12</text><text x="535.9" y="687.5" text-anchor="middle" font-size="24">14</text><text x="599.7" y="687.5" text-anchor="middle" font-size="24">16</text><text x="663.5" y="687.5" text-anchor="middle" font-size="24">18</text><text x="727.3" y="687.5" text-anchor="middle" font-size="24">20</text><text x="791.1" y="687.5" text-anchor="middle" font-size="24">22</text><text x="854.8" y="687.5" text-anchor="middle" font-size="24">24</text><text x="918.6" y="687.5" text-anchor="middle" font-size="24">26</text><text x="982.4" y="687.5" text-anchor="middle" font-size="24">28</text><text x="1046.2" y="687.5" text-anchor="middle" font-size="24">30</text><text x="1109.9" y="687.5" text-anchor="middle" font-size="24">32</text><text x="1173.7" y="687.5" text-anchor="middle" font-size="24">34</text><text x="1237.5" y="687.5" text-anchor="middle" font-size="24">36</text><text x="591.2" y="723.8" font-size="28" textLength="59.5" lengthAdjust="spacingAndGlyphs">time</text><text x="659.2" y="723.8" font-size="28" textLength="71.8" lengthAdjust="spacingAndGlyphs">(UTC)</text><g transform="translate(25,504.2) rotate(-90) scale(1.07,1)" font-size="28"><text x="-1.20" y="0">2m - wind speed</text><text x="221.08" y="0">(m s</text><text x="276.76" y="-10" font-size="20">-1</text><text x="298.47" y="0">)</text></g></svg></body></html>
